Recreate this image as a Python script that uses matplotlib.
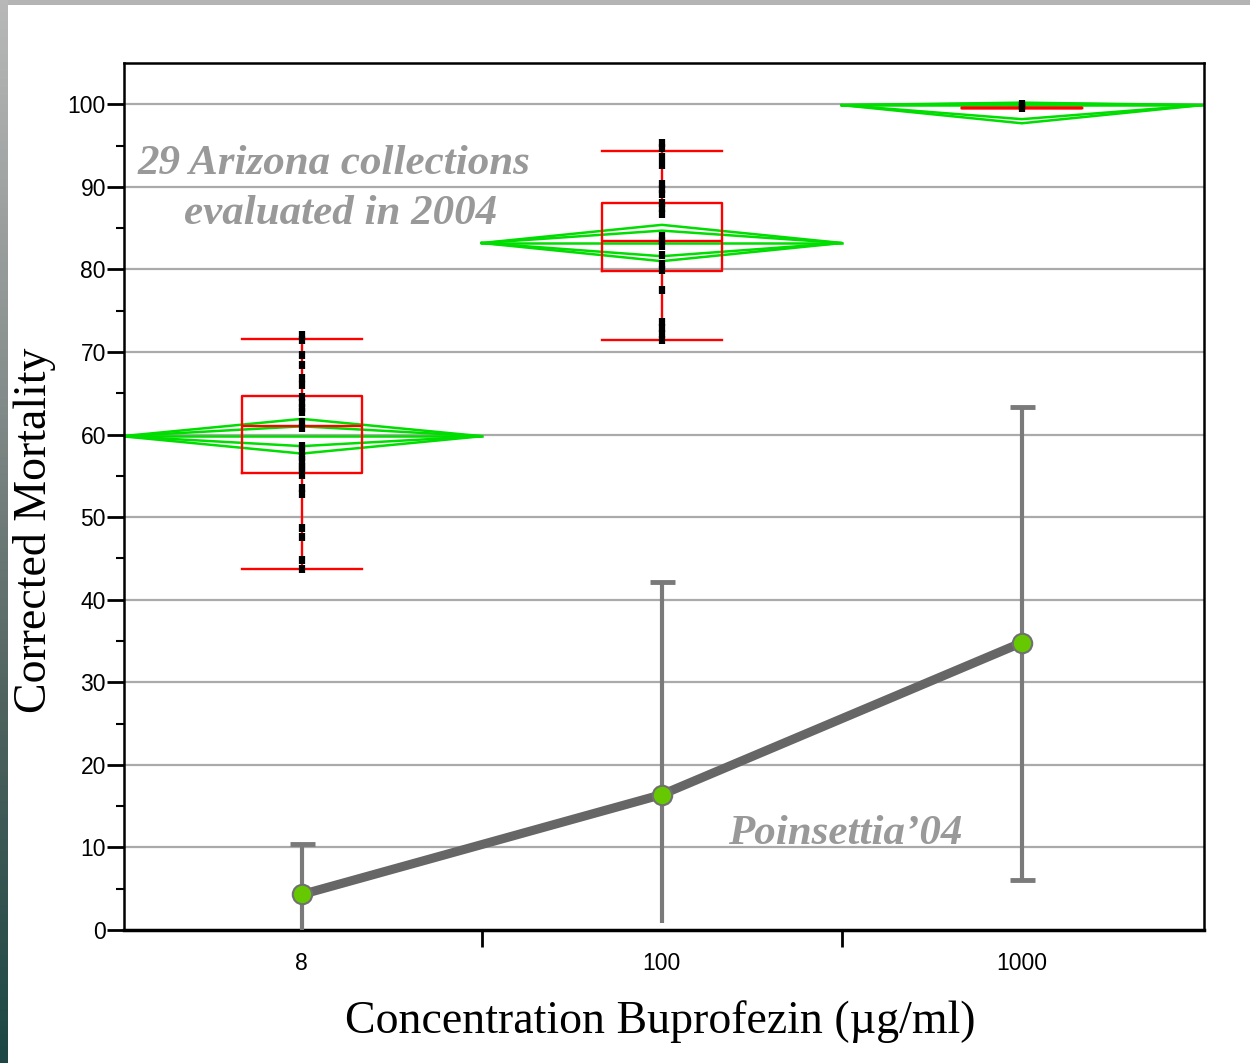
import matplotlib
matplotlib.use('Agg')
import matplotlib.pyplot as plt
import numpy as np

# groups
doses = ['8', '100', '1000']

# 29 collections, raw points (black marks)
pts_8 = [72.0, 71.4, 69.6, 68.4, 66.8, 66.0, 64.5, 63.8, 63.2, 62.7, 61.5, 60.8,
         58.6, 58.0, 57.3, 56.9, 56.1, 55.9, 55.1, 53.5, 52.8, 48.7, 47.6, 44.8, 43.7]
pts_100 = [95.3, 94.7, 93.6, 92.6, 90.4, 89.8, 89.1, 88.1, 87.4, 86.7, 84.1, 83.5,
           82.8, 81.7, 80.6, 79.9, 77.5, 73.6, 72.9, 72.2, 71.5]
pts_1000 = [100.0, 99.8, 99.6]

# box plot stats (red)
box_lo = [43.7, 71.4, 99.6]
box_q1 = [55.3, 79.8, 99.6]
box_med = [61.0, 83.4, 99.6]
box_q3 = [64.7, 88.0, 99.6]
box_hi = [71.6, 94.4, 99.6]

# means diamonds (green)
dia_mean = [59.8, 83.2, 99.9]
dia_lo = [57.7, 81.0, 97.7]
dia_hi = [61.9, 85.4, 100.2]
dia_in_lo = [58.6, 81.6, 98.2]
dia_in_hi = [61.0, 84.7, 100.1]

# Poinsettia'04 means with error bars
p04_mean = [4.3, 16.4, 34.8]
p04_lo = [-3.0, 0.8, 6.0]
p04_hi = [10.4, 42.2, 63.3]

serif = 'Liberation Serif'
sans = 'Liberation Sans'

fig = plt.figure(figsize=(12.5, 10.63), dpi=100, facecolor='white')

# frame decoration: grey top strip and gradient left strip
top = fig.add_axes([0, 1 - 5 / 1063, 1, 5 / 1063])
top.set_axis_off()
top.add_patch(plt.Rectangle((0, 0), 1, 1, color='#b4b4b4', transform=top.transAxes))
left = fig.add_axes([0, 0, 8 / 1250, 1])
grad = np.linspace(0, 1, 256)[:, None]
cmap = matplotlib.colors.LinearSegmentedColormap.from_list(
    'edge', ['#b8b8b8', '#8a9290', '#4f625e', '#1c4744'])
left.imshow(grad, aspect='auto', cmap=cmap, extent=[0, 1, 0, 1], origin='upper')
left.set_axis_off()

ax = fig.add_axes([124 / 1250, 1 - 930 / 1063, (1204 - 124) / 1250, (930 - 63) / 1063])
ax.set_xlim(-0.494, 2.506)
ax.set_ylim(0, 105)

# grid
for g in range(10, 101, 10):
    ax.axhline(g, color='#aaaaaa', lw=1.6, zorder=0)

pos = np.arange(len(doses))

# diamonds
for i in pos:
    for lo, hi in [(dia_lo[i], dia_hi[i]), (dia_in_lo[i], dia_in_hi[i])]:
        ax.plot([i - 0.5, i, i + 0.5, i, i - 0.5],
                [dia_mean[i], hi, dia_mean[i], lo, dia_mean[i]],
                color='#00dd00', lw=1.8, zorder=2)
    ax.plot([i - 0.5, i + 0.5], [dia_mean[i], dia_mean[i]], color='#00dd00', lw=1.8, zorder=2)

# box plots
stats = []
for i in pos:
    stats.append(dict(whislo=box_lo[i], q1=box_q1[i], med=box_med[i],
                      q3=box_q3[i], whishi=box_hi[i], fliers=[]))
red = dict(color='#ff0000', lw=1.7)
ax.bxp(stats, positions=pos, widths=0.335, capwidths=0.335, showfliers=False,
       boxprops=red, whiskerprops=red, capprops=red, medianprops=red,
       manage_ticks=False, zorder=3)

# raw points
for i, p in enumerate([pts_8, pts_100, pts_1000]):
    ax.plot([i] * len(p), p, ls='none', marker='|', ms=6, mew=4.5,
            color='black', zorder=4)

# Poinsettia'04 series
yerr = [np.array(p04_mean) - np.array(p04_lo), np.array(p04_hi) - np.array(p04_mean)]
ax.errorbar(pos, p04_mean, yerr=yerr, fmt='none', ecolor='#7a7a7a',
            elinewidth=3, capsize=0, zorder=5)
ax.plot(pos, p04_hi, ls='none', marker='_', ms=18, mew=3.5, color='#7a7a7a', zorder=5)
ax.plot([pos[2]], [p04_lo[2]], ls='none', marker='_', ms=18, mew=3.5,
        color='#7a7a7a', zorder=5)
ax.plot(pos, p04_mean, color='#666666', lw=6.5, zorder=6, solid_capstyle='butt')
ax.plot(pos, p04_mean, ls='none', marker='o', ms=14, mfc='#66c800',
        mec='#707070', mew=1.5, zorder=7)

# annotations
ann = dict(family=serif, fontsize=31, fontweight='bold', style='italic',
           color='#999999', ha='center', va='center')
ax.text(0.089, 92.8, '29 Arizona collections', **ann)
ax.text(0.108, 86.7, 'evaluated in 2004', **ann)
ax.text(1.508, 11.6, 'Poinsettia\u201904', **ann)

# axes styling
for s in ax.spines.values():
    s.set_color('black')
    s.set_linewidth(1.8)
ax.spines['bottom'].set_linewidth(2.5)
ax.set_yticks(range(0, 101, 10))
ax.set_yticks(range(5, 101, 10), minor=True)
ax.tick_params(axis='y', which='major', length=12, width=2, pad=1,
               labelsize=16.5)
ax.tick_params(axis='y', which='minor', length=6, width=1.5)
ax.set_xticks(pos)
ax.set_xticklabels(doses)
ax.set_xticks([0.5, 1.5], minor=True)
ax.tick_params(axis='x', which='major', length=0, pad=16, labelsize=16.5)
ax.tick_params(axis='x', which='minor', length=12, width=2)
for t in ax.get_xticklabels() + ax.get_yticklabels():
    t.set_family(sans)

fig.text(35 / 1250, 1 - 530 / 1063, 'Corrected Mortality', family=serif,
         fontsize=33, rotation=90, ha='center', va='center')
fig.text(660 / 1250, 1 - 1022 / 1063, 'Concentration Buprofezin (\u00b5g/ml)',
         family=serif, fontsize=33, ha='center', va='center')

fig.savefig('out.png', dpi=100, facecolor='white')
